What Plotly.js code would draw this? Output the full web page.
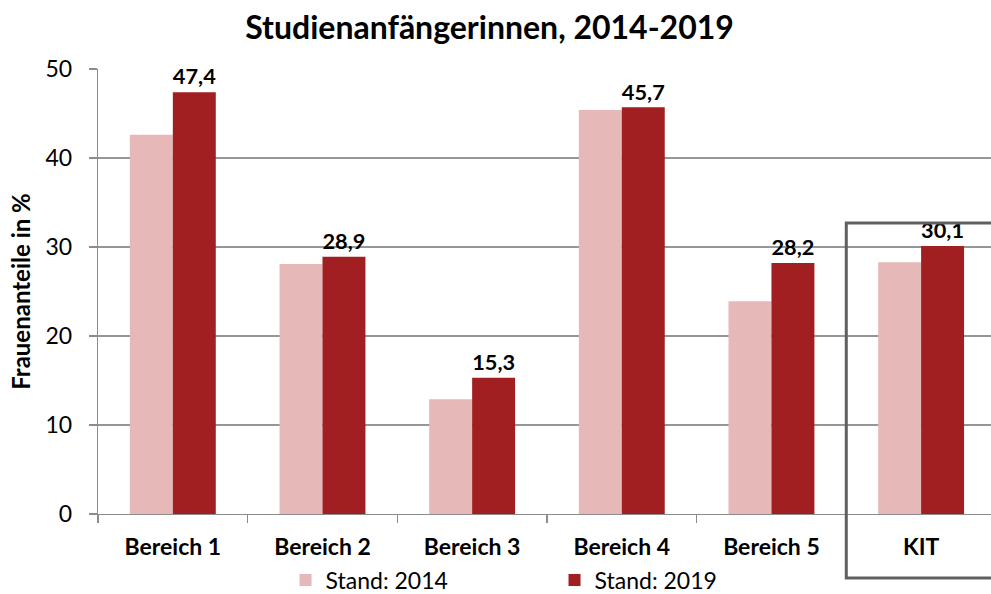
<!DOCTYPE html>
<html>
<head>
<meta charset="utf-8">
<script src="https://cdn.plot.ly/plotly-3.0.1.min.js"></script>
<style>
html,body{margin:0;padding:0;background:#fff;}
#chart{width:991px;height:594px;}
</style>
</head>
<body>
<div id="chart"></div>
<script>
const categories = ["Bereich 1", "Bereich 2", "Bereich 3", "Bereich 4", "Bereich 5", "KIT"];
const seriesNames = ["Stand: 2014", "Stand: 2019"];
const values2014 = [42.6, 28.1, 12.9, 45.4, 23.9, 28.3];
const values2019 = [47.4, 28.9, 15.3, 45.7, 28.2, 30.1];
const yTicks = [0, 10, 20, 30, 40, 50];

const FONT = "Lato, 'Liberation Sans', sans-serif";
const fmt = v => v.toFixed(1).replace(".", ",");

const traces = [
  {
    type: "bar", name: seriesNames[0], x: categories, y: values2014,
    marker: {color: "#E6B8B7", line: {width: 0}},
    hoverinfo: "skip"
  },
  {
    type: "bar", name: seriesNames[1], x: categories, y: values2019,
    marker: {color: "#A11E21", line: {width: 0}},
    text: values2019.map(fmt), textposition: "outside", cliponaxis: false,
    textfont: {family: FONT, size: 23, color: "#000", weight: 700},
    hoverinfo: "skip"
  }
];

const layout = {
  width: 991, height: 594,
  margin: {l: 98, r: 0, t: 69, b: 80, autoexpand: false},
  paper_bgcolor: "#fff", plot_bgcolor: "#fff",
  font: {family: FONT, color: "#000"},
  title: {
    text: "<b>Studienanfängerinnen, 2014-2019</b>",
    font: {family: FONT, size: 32, color: "#000"},
    xref: "container", yref: "container", x: 0.494, y: 0.953,
    xanchor: "center", yanchor: "middle"
  },
  barmode: "group", bargap: 0.426, bargroupgap: 0,
  showlegend: true,
  legend: {
    orientation: "h", x: 0.21, xanchor: "left", y: -0.1, yanchor: "top",
    font: {family: FONT, size: 23, color: "#000"},
    entrywidth: 224, entrywidthmode: "pixels",
    traceorder: "normal", bgcolor: "rgba(0,0,0,0)"
  },
  xaxis: {
    type: "category", range: [-0.5, 5.467], automargin: false,
    showline: true, linecolor: "#8C8C8C", linewidth: 1.3,
    ticks: "outside", tickson: "boundaries", ticklen: 8, tickcolor: "#8C8C8C", tickwidth: 1.3,
    tickfont: {family: FONT, size: 23, color: "#000", weight: 700},
    ticklabelstandoff: 12,
    showgrid: false, fixedrange: true
  },
  yaxis: {
    range: [0, 50], tickvals: yTicks, ticktext: yTicks.map(String), automargin: false,
    showline: true, linecolor: "#8C8C8C", linewidth: 1.3,
    ticks: "outside", ticklen: 8, tickcolor: "#8C8C8C", tickwidth: 1.3,
    gridcolor: "#969696", gridwidth: 1.3,
    tickfont: {family: FONT, size: 23, color: "#000"},
    ticklabelstandoff: 12,
    zeroline: false,
    title: {text: "<b>Frauenanteile in %</b>", font: {family: FONT, size: 24, color: "#000"}, standoff: 8},
    fixedrange: true
  },
  shapes: [{
    type: "rect", xref: "x", yref: "paper",
    x0: 4.5, x1: 5.8, y0: -0.144, y1: 0.654,
    line: {color: "#606060", width: 3}, fillcolor: "rgba(0,0,0,0)", layer: "above"
  }]
};

Plotly.newPlot("chart", traces, layout, {displayModeBar: false, staticPlot: true});
</script>
</body>
</html>
